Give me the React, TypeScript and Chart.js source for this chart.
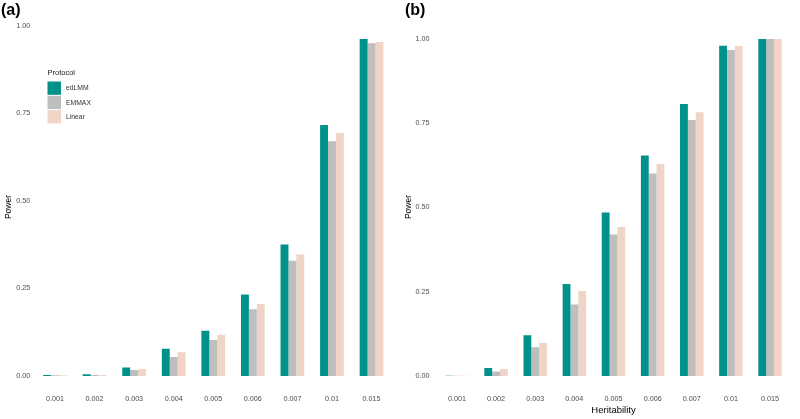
import React, { useEffect, useRef } from 'react';
import { Chart, registerables } from 'chart.js';

Chart.register(...registerables);

const categories = ['0.001', '0.002', '0.003', '0.004', '0.005', '0.006', '0.007', '0.01', '0.015'];
const protocols = ['edLMM', 'EMMAX', 'Linear'];
const protocolColors = ['#00918A', '#BEBEBE', '#F1D4C8'];

// Panel (a)
const edlmmA = [0.003, 0.005, 0.024, 0.078, 0.129, 0.233, 0.376, 0.717, 0.963];
const emmaxA = [0.002, 0.003, 0.017, 0.054, 0.103, 0.191, 0.329, 0.671, 0.951];
const linearA = [0.002, 0.003, 0.020, 0.068, 0.118, 0.206, 0.347, 0.694, 0.954];

// Panel (b)
const edlmmB = [0.001, 0.024, 0.121, 0.273, 0.485, 0.654, 0.807, 0.980, 1.0];
const emmaxB = [0.0005, 0.013, 0.085, 0.212, 0.420, 0.601, 0.760, 0.967, 1.0];
const linearB = [0.0005, 0.021, 0.098, 0.252, 0.442, 0.629, 0.783, 0.979, 1.0];

const yTicks = [0, 0.25, 0.5, 0.75, 1.0];

const FONT = '"Liberation Sans", Arial, Helvetica, sans-serif';
const W = 400;
const H = 419;

type PanelProps = {
  label: string;
  series: number[][];
  legend: boolean;
  xTitle: string;
  axisWidth: number;
  tickPad: number;
  top: number;
  right: number;
  labelX: number;
};

function Panel(props: PanelProps) {
  const ref = useRef<HTMLCanvasElement | null>(null);
  useEffect(() => {
    if (!ref.current) return;
    const p = props;
    const overlay = {
      id: 'overlay',
      afterDraw(chart: any) {
        const ctx = chart.ctx;
        ctx.save();
        ctx.fillStyle = '#000';
        ctx.font = `bold 16px ${FONT}`;
        ctx.textBaseline = 'alphabetic';
        ctx.textAlign = 'left';
        ctx.fillText(p.label, p.labelX, 15);
        // y-axis title
        ctx.save();
        ctx.translate(8.5, 207);
        ctx.rotate(-Math.PI / 2);
        ctx.textAlign = 'center';
        ctx.textBaseline = 'middle';
        ctx.font = `8.5px ${FONT}`;
        ctx.fillStyle = '#000';
        ctx.fillText('Power', 0, 0);
        ctx.restore();
        if (p.legend) {
          ctx.fillStyle = '#1a1a1a';
          ctx.font = `7.5px ${FONT}`;
          ctx.textBaseline = 'middle';
          ctx.textAlign = 'left';
          ctx.fillText('Protocol', 47.5, 72.5);
          protocols.forEach((name, i) => {
            const y = 81.5 + i * 14.3;
            ctx.fillStyle = protocolColors[i];
            ctx.fillRect(47.5, y, 13.5, 13.3);
            ctx.fillStyle = '#333';
            ctx.font = `6.8px ${FONT}`;
            ctx.fillText(name, 66, y + 7);
          });
        }
        ctx.restore();
      },
    };
    const chart = new Chart(ref.current, {
      type: 'bar',
      data: {
        labels: categories,
        datasets: protocols.map((name, i) => ({
          label: name,
          data: p.series[i],
          backgroundColor: protocolColors[i],
          borderWidth: 0,
          categoryPercentage: 0.6,
          barPercentage: 1.0,
        })),
      },
      options: {
        responsive: false,
        maintainAspectRatio: false,
        animation: false,
        events: [],
        layout: { padding: { top: p.top, right: p.right, left: 0, bottom: 0 } },
        plugins: { legend: { display: false }, tooltip: { enabled: false }, title: { display: false } },
        scales: {
          x: {
            type: 'category',
            offset: true,
            grid: { display: false, drawTicks: false },
            border: { display: false },
            ticks: { color: '#4d4d4d', font: { family: FONT, size: 7.2 }, padding: 19, maxRotation: 0, autoSkip: false },
            title: {
              display: p.xTitle !== '',
              text: p.xTitle,
              color: '#000',
              font: { family: FONT, size: 9.5 },
              padding: { top: 0, bottom: 3 },
            },
            afterFit: (s: any) => {
              s.height = 43;
            },
          },
          y: {
            min: 0,
            max: 1,
            grid: { display: false, drawTicks: false },
            border: { display: false },
            afterBuildTicks: (s: any) => {
              s.ticks = yTicks.map((v) => ({ value: v }));
            },
            ticks: {
              color: '#4d4d4d',
              font: { family: FONT, size: 7.2 },
              padding: p.tickPad,
              callback: (v: any) => Number(v).toFixed(2),
            },
            title: { display: false },
            afterFit: (s: any) => {
              s.width = p.axisWidth;
            },
          },
        },
      },
      plugins: [overlay],
    });
    return () => chart.destroy();
  }, []);
  return <canvas ref={ref} width={W} height={H} style={{ display: 'block', width: W, height: H }} />;
}

export default function App() {
  return (
    <div style={{ position: 'absolute', left: 0, top: 0, width: 800, height: 419, background: '#fff', display: 'flex' }}>
      <Panel
        label="(a)"
        series={[edlmmA, emmaxA, linearA]}
        legend={true}
        xTitle=""
        axisWidth={35.2}
        tickPad={5}
        top={26}
        right={8.2}
        labelX={1}
      />
      <Panel
        label="(b)"
        series={[edlmmB, emmaxB, linearB]}
        legend={false}
        xTitle="Heritability"
        axisWidth={37.4}
        tickPad={8}
        top={39}
        right={10.4}
        labelX={5}
      />
    </div>
  );
}
